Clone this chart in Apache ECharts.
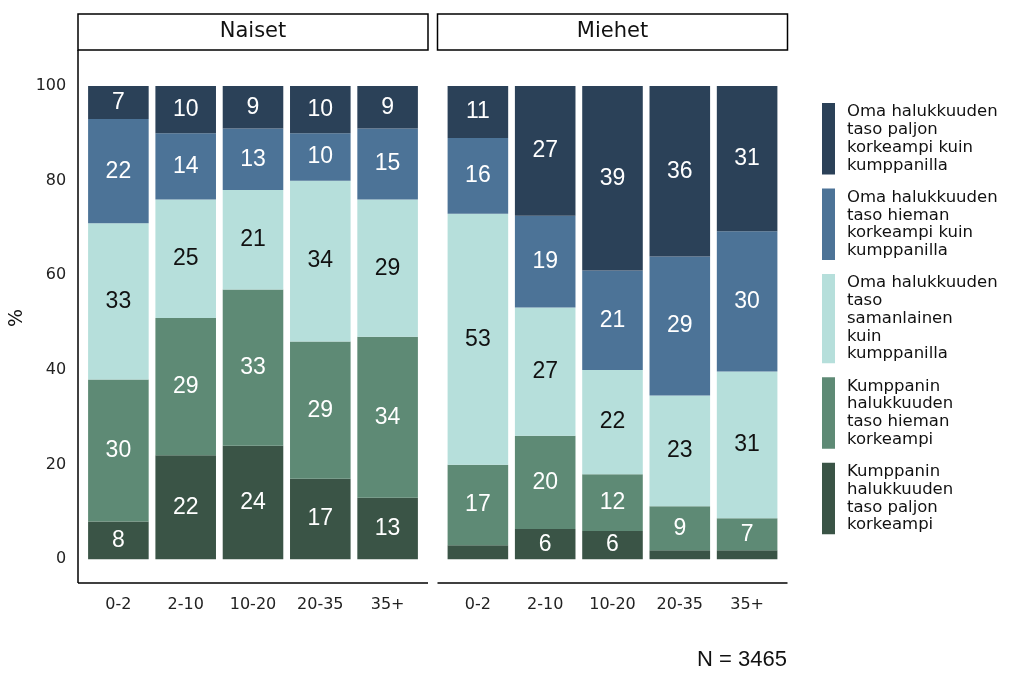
<!DOCTYPE html>
<html><head><meta charset="utf-8">
<script src="https://cdn.jsdelivr.net/npm/echarts@6/dist/echarts.min.js"></script>
<style>html,body{margin:0;padding:0;background:#fff}#c{width:1024px;height:681px}</style>
</head><body><div id="c"></div>
<script>
const categories = ['0-2','2-10','10-20','20-35','35+'];
const panels = ['Naiset','Miehet'];
const seriesNames = [
  'Kumppanin\nhalukkuuden\ntaso paljon\nkorkeampi',
  'Kumppanin\nhalukkuuden\ntaso hieman\nkorkeampi',
  'Oma halukkuuden\ntaso\nsamanlainen\nkuin\nkumppanilla',
  'Oma halukkuuden\ntaso hieman\nkorkeampi kuin\nkumppanilla',
  'Oma halukkuuden\ntaso paljon\nkorkeampi kuin\nkumppanilla'
];
const colors = ['#3a5446','#5e8a75','#b6dfdb','#4c7397','#2b4158'];
const labelColors = ['#ffffff','#ffffff','#111111','#ffffff','#ffffff'];
// Naiset values (%), bottom to top
const naiset = [
  [8, 22, 24, 17, 13],
  [30, 29, 33, 29, 34],
  [33, 25, 21, 34, 29],
  [22, 14, 13, 10, 15],
  [7, 10, 9, 10, 9]
];
// Miehet values (%), bottom to top (estimated unrounded shares)
const miehet = [
  [3, 6.4, 6, 1.9, 1.9],
  [17, 19.7, 12, 9.3, 6.8],
  [53, 27.1, 22, 23.4, 31.0],
  [16, 19.4, 21, 29.4, 29.6],
  [11, 27.4, 39, 36.0, 30.7]
];
const yTicks = [0, 20, 40, 60, 80, 100];
const nText = 'N = 3465';

const FONT = 'DejaVu Sans';
const chart = echarts.init(document.getElementById('c'));
const unit = 350 / 5.2;
const panelLeft = [78, 437.5];
const gridTop = 50, gridBottom = 583;

const grids = panelLeft.map(l => ({left: l + 0.1 * unit, width: 5 * unit, top: gridTop, height: gridBottom - gridTop}));
const xAxes = grids.map((g, i) => ({
  type: 'category', gridIndex: i, data: categories,
  axisLine: {show: false}, axisTick: {show: false},
  axisLabel: {color: '#222', fontSize: 16, fontFamily: FONT, margin: 14}
}));
const yAxes = grids.map((g, i) => ({
  type: 'value', gridIndex: i, min: -5, max: 107.6, interval: 5,
  splitLine: {show: false}, axisLine: {show: false}, axisTick: {show: false},
  axisLabel: {show: i === 0, color: '#222', fontSize: 16, fontFamily: FONT, margin: 18.5,
    formatter: v => (yTicks.indexOf(Math.round(v)) >= 0 && Math.abs(v - Math.round(v)) < 1e-6) ? String(Math.round(v)) : ''}
}));

const series = [];
[naiset, miehet].forEach((data, p) => {
  data.forEach((vals, k) => {
    series.push({
      type: 'bar', name: seriesNames[k], xAxisIndex: p, yAxisIndex: p, stack: 'p' + p,
      data: vals, barWidth: '90%',
      itemStyle: {color: colors[k]},
      label: {show: true, position: 'inside', color: labelColors[k], fontSize: 23,
        fontFamily: 'Liberation Sans',
        formatter: pr => pr.value >= 5 ? String(Math.round(pr.value)) : ''}
    });
  });
});

const graphic = [];
graphic.push({type: 'line', shape: {x1: 78, y1: gridTop, x2: 78, y2: gridBottom}, style: {stroke: '#000', lineWidth: 1.5}});
panelLeft.forEach(l => graphic.push({type: 'line', shape: {x1: l, y1: gridBottom, x2: l + 350, y2: gridBottom}, style: {stroke: '#000', lineWidth: 1.5}}));
panelLeft.forEach((l, i) => {
  graphic.push({type: 'rect', shape: {x: l, y: 14, width: 350, height: 36}, style: {fill: '#fff', stroke: '#000', lineWidth: 1.5}});
  graphic.push({type: 'text', x: l + 175, y: 32, style: {text: panels[i], fill: '#111', font: '21px ' + FONT, textAlign: 'center', textVerticalAlign: 'middle'}});
});
graphic.push({type: 'text', x: 17, y: 318, rotation: Math.PI / 2, style: {text: '%', fill: '#111', font: '19px ' + FONT, textAlign: 'center', textVerticalAlign: 'middle'}});
const legendOrder = [4, 3, 2, 1, 0];
const lineH = 17.75;
let y = 103;
legendOrder.forEach(k => {
  const lines = seriesNames[k].split('\n').length;
  const h = lines * lineH + 0.5;
  graphic.push({type: 'rect', shape: {x: 822, y: y, width: 13, height: h}, style: {fill: colors[k]}});
  graphic.push({type: 'text', x: 847, y: y + h / 2, style: {text: seriesNames[k], fill: '#111', font: '16.5px ' + FONT, lineHeight: lineH, textVerticalAlign: 'middle', textAlign: 'left'}});
  y += h + 14;
});
graphic.push({type: 'text', x: 787, y: 660, style: {text: nText, fill: '#111', font: '22px Liberation Sans', textAlign: 'right', textVerticalAlign: 'middle'}});

chart.setOption({animation: false, grid: grids, xAxis: xAxes, yAxis: yAxes, series: series, graphic: graphic});
</script></body></html>
